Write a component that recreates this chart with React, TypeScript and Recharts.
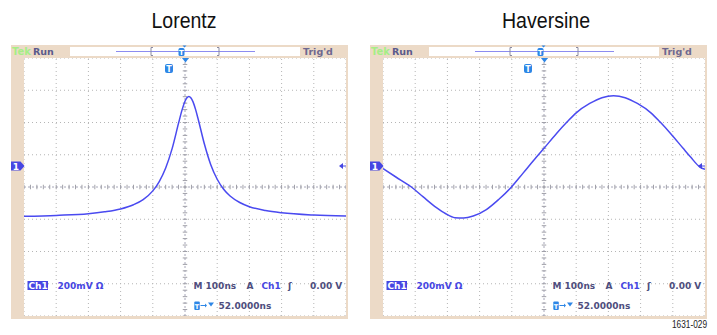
import { LineChart, Line, XAxis, YAxis, ReferenceLine } from "recharts";

// screen values in divisions (x: 100 ns/div, y: 200 mV/div)
const lorentzTime = [
  -5, -4, -3, -2.5, -2, -1.6, -1.3, -1.0, -0.8, -0.6, -0.4, -0.2, -0.1, 0, 0.06, 0.12, 0.18, 0.25,
  0.33, 0.4, 0.6, 0.8, 1.0, 1.2, 1.4, 1.7, 2.0, 2.5, 3, 4, 5,
];
const lorentzLevel = [
  -0.91, -0.88, -0.83, -0.77, -0.68, -0.55, -0.39, -0.12, 0.17, 0.59, 1.19, 1.98, 2.36, 2.66, 2.77,
  2.81, 2.77, 2.64, 2.4, 2.14, 1.34, 0.69, 0.24, -0.07, -0.28, -0.48, -0.61, -0.73, -0.8, -0.87, -0.9,
];
const haversineTime = [
  -5, -4.6, -4.12, -3.76, -3.34, -3.05, -2.77, -2.5, -2.2, -1.79, -1.4, -1.01, -0.65, -0.24, 0, 0.39,
  0.72, 1.0, 1.42, 1.8, 2.16, 2.52, 2.9, 3.32, 3.6, 3.93, 4.32, 4.56, 4.84, 5,
];
const haversineLevel = [
  0.57, 0.31, 0, -0.3, -0.64, -0.83, -0.95, -0.96, -0.9, -0.7, -0.38, 0, 0.43, 0.92, 1.2, 1.66,
  2.02, 2.3, 2.59, 2.77, 2.83, 2.77, 2.59, 2.3, 2.02, 1.66, 1.2, 0.92, 0.62, 0.55,
];

const majorX = [-4, -3, -2, -1, 1, 2, 3, 4];
const majorY = [-3, -2, -1, 1, 2, 3];
const minorX = Array.from({ length: 51 }, (_, i) => Math.round((-5 + i * 0.2) * 10) / 10);
const minorY = Array.from({ length: 41 }, (_, i) => Math.round((-4 + i * 0.2) * 10) / 10);

const TRACE = "#4a4af0";
const BEIGE = "#ecdac7";
const BLUE_TEXT = "#4646e2";
const SLATE = "#4e4e7e";
const ICON = "#2d86e6";
const GRID = "#b5b5b5";
const MONO = "DejaVu Sans, Verdana, sans-serif";

function Scope({
  ox,
  title,
  titleCx,
  titleW,
  time,
  level,
  label,
}: {
  ox: number;
  title: string;
  titleCx: number;
  titleW: number;
  time: number[];
  level: number[];
  label?: string;
}) {
  const data = time.map((t, i) => ({ t, v: level[i] }));
  const tickStyle = { stroke: "#9c9c9c" };
  return (
    <>
      <div style={{ position: "absolute", left: 11 + ox, top: 45, width: 337, height: 274, background: BEIGE }} />
      <div style={{ position: "absolute", left: 24 + ox, top: 58, width: 322, height: 258, background: "#fff" }}>
        <LineChart width={322} height={258} data={data} margin={{ top: 0, right: 0, bottom: 0, left: 0 }}>
          <XAxis type="number" dataKey="t" domain={[-5, 5]} ticks={minorX} mirror tick={false} tickSize={3} axisLine={false} tickLine={tickStyle} allowDataOverflow />
          <XAxis xAxisId="top" orientation="top" type="number" dataKey="t" domain={[-5, 5]} ticks={minorX} mirror tick={false} tickSize={3} axisLine={false} tickLine={tickStyle} allowDataOverflow />
          <YAxis type="number" domain={[-4, 4]} ticks={minorY} mirror tick={false} tickSize={3} axisLine={false} tickLine={tickStyle} allowDataOverflow />
          <YAxis yAxisId="right" orientation="right" type="number" domain={[-4, 4]} ticks={minorY} mirror tick={false} tickSize={3} axisLine={false} tickLine={tickStyle} allowDataOverflow />
          {majorX.map((x) => (
            <ReferenceLine key={"vx" + x} x={x} stroke={GRID} strokeDasharray="1 3" />
          ))}
          {majorY.map((y) => (
            <ReferenceLine key={"hy" + y} y={y} stroke={GRID} strokeDasharray="1 3" />
          ))}
          <ReferenceLine x={-5} stroke={GRID} strokeDasharray="1 3" />
          <ReferenceLine x={5} stroke={GRID} strokeDasharray="1 3" />
          <ReferenceLine y={-4} stroke={GRID} strokeDasharray="1 3" />
          <ReferenceLine y={4} stroke={GRID} strokeDasharray="1 3" />
          <ReferenceLine x={0} stroke="#a6a6b8" strokeDasharray="2 2" />
          <ReferenceLine y={0} stroke="#a6a6b8" strokeDasharray="2 2" />
          {minorX.map((x) => (
            <ReferenceLine key={"tx" + x} segment={[{ x, y: -0.07 }, { x, y: 0.07 }]} stroke="#a0a0a8" />
          ))}
          {minorY.map((y) => (
            <ReferenceLine key={"ty" + y} segment={[{ x: -0.07, y }, { x: 0.07, y }]} stroke="#a0a0a8" />
          ))}
          <Line type="monotone" dataKey="v" stroke={TRACE} strokeWidth={1.5} dot={false} isAnimationActive={false} />
        </LineChart>
      </div>
      <svg
        width={360}
        height={335}
        style={{ position: "absolute", left: ox, top: 0, pointerEvents: "none" }}
      >
        <text
          x={titleCx}
          y={28}
          textAnchor="middle"
          fontFamily="Liberation Sans, Arial, sans-serif"
          fontSize={22}
          textLength={titleW}
          lengthAdjust="spacingAndGlyphs"
          fill="#111"
        >
          {title}
        </text>

        {/* top status bar */}
        <rect x={70} y={47} width={230} height={9} fill="#fff" />
        <line x1={116} x2={255} y1={51.5} y2={51.5} stroke="#8c8cf0" />
        <path d="M153,47.5 h-2 v8 h2" fill="none" stroke="#8a8aa0" />
        <path d="M217,47.5 h2 v8 h-2" fill="none" stroke="#8a8aa0" />
        <rect x={178.5} y={48} width={6} height={8} rx={1.5} fill={ICON} />
        <text x={181.5} y={54.5} textAnchor="middle" fontFamily={MONO} fontWeight="bold" fontSize={7} fill="#fff">T</text>
        <path d="M182.5,45.5 L186.5,45.5 L184.5,47.5 Z" fill={ICON} />
        <text x={12} y={55} fontFamily={MONO} fontWeight="bold" fontSize={10} fill="#a6ee86">Tek</text>
        <text x={33} y={55} fontFamily={MONO} fontWeight="bold" fontSize={9.5} fill="#5a5a8c">Run</text>
        <text x={303} y={55} fontFamily={MONO} fontWeight="bold" fontSize={9.5} fill="#6e6890">Trig'd</text>

        {/* markers */}
        <path d="M11,161.5 H20.5 L24.5,166 L20.5,170.5 H11 Z" fill={BLUE_TEXT} />
        <text x={16} y={169.5} textAnchor="middle" fontFamily={MONO} fontWeight="bold" fontSize={9} fill="#fff">1</text>
        <path d="M339,166 L343,163 L343,169 Z" fill={BLUE_TEXT} />
        <line x1={343} x2={346} y1={166} y2={166} stroke={BLUE_TEXT} />
        <rect x={165} y={64} width={8} height={9} rx={2} fill={ICON} />
        <text x={169} y={71.5} textAnchor="middle" fontFamily={MONO} fontWeight="bold" fontSize={8} fill="#fff">T</text>
        <path d="M182,58 L189,58 L185.5,62.5 Z" fill={ICON} />

        {/* readouts */}
        <rect x={27.5} y={281} width={20.5} height={9} fill={BLUE_TEXT} />
        <text x={28.5} y={288.5} fontFamily={MONO} fontWeight="bold" fontSize={9} fill="#fff">Ch1</text>
        <text x={57.5} y={288.5} fontFamily={MONO} fontWeight="bold" fontSize={9} fill={BLUE_TEXT}>200mV Ω</text>
        <text x={193.5} y={288.5} fontFamily={MONO} fontWeight="bold" fontSize={9} fill={SLATE}>M 100ns</text>
        <text x={246.5} y={288.5} fontFamily={MONO} fontWeight="bold" fontSize={9} fill={SLATE}>A</text>
        <text x={261.5} y={288.5} fontFamily={MONO} fontWeight="bold" fontSize={9} fill={BLUE_TEXT}>Ch1</text>
        <text x={288} y={288.5} fontFamily={MONO} fontWeight="bold" fontSize={9} fill={SLATE}>ʃ</text>
        <text x={310} y={288.5} fontFamily={MONO} fontWeight="bold" fontSize={9} fill={SLATE}>0.00 V</text>
        <rect x={194.3} y={301.5} width={5.5} height={8.5} rx={1} fill={ICON} />
        <text x={197} y={308.5} textAnchor="middle" fontFamily={MONO} fontWeight="bold" fontSize={6.5} fill="#fff">T</text>
        <line x1={200.5} x2={205} y1={305.5} y2={305.5} stroke={ICON} />
        <path d="M205,303.5 L207,305.5 L205,307.5 Z" fill={ICON} />
        <path d="M208,302.5 L214,302.5 L211,306.5 Z" fill={ICON} />
        <text x={218.5} y={309} fontFamily={MONO} fontWeight="bold" fontSize={9} fill={SLATE}>52.0000ns</text>

        {label && (
          <text
            x={348}
            y={328}
            textAnchor="end"
            fontFamily="Liberation Sans, Arial, sans-serif"
            fontSize={10}
            textLength={35}
            lengthAdjust="spacingAndGlyphs"
            fill="#222"
          >
            {label}
          </text>
        )}
      </svg>
    </>
  );
}

export default function App() {
  return (
    <div style={{ position: "absolute", left: 0, top: 0, width: 717, height: 335, background: "#fff", overflow: "hidden" }}>
      <Scope ox={0} title="Lorentz" titleCx={184} titleW={65} time={lorentzTime} level={lorentzLevel} />
      <Scope
        ox={359}
        title="Haversine"
        titleCx={187}
        titleW={88}
        time={haversineTime}
        level={haversineLevel}
        label="1631-029"
      />
    </div>
  );
}
